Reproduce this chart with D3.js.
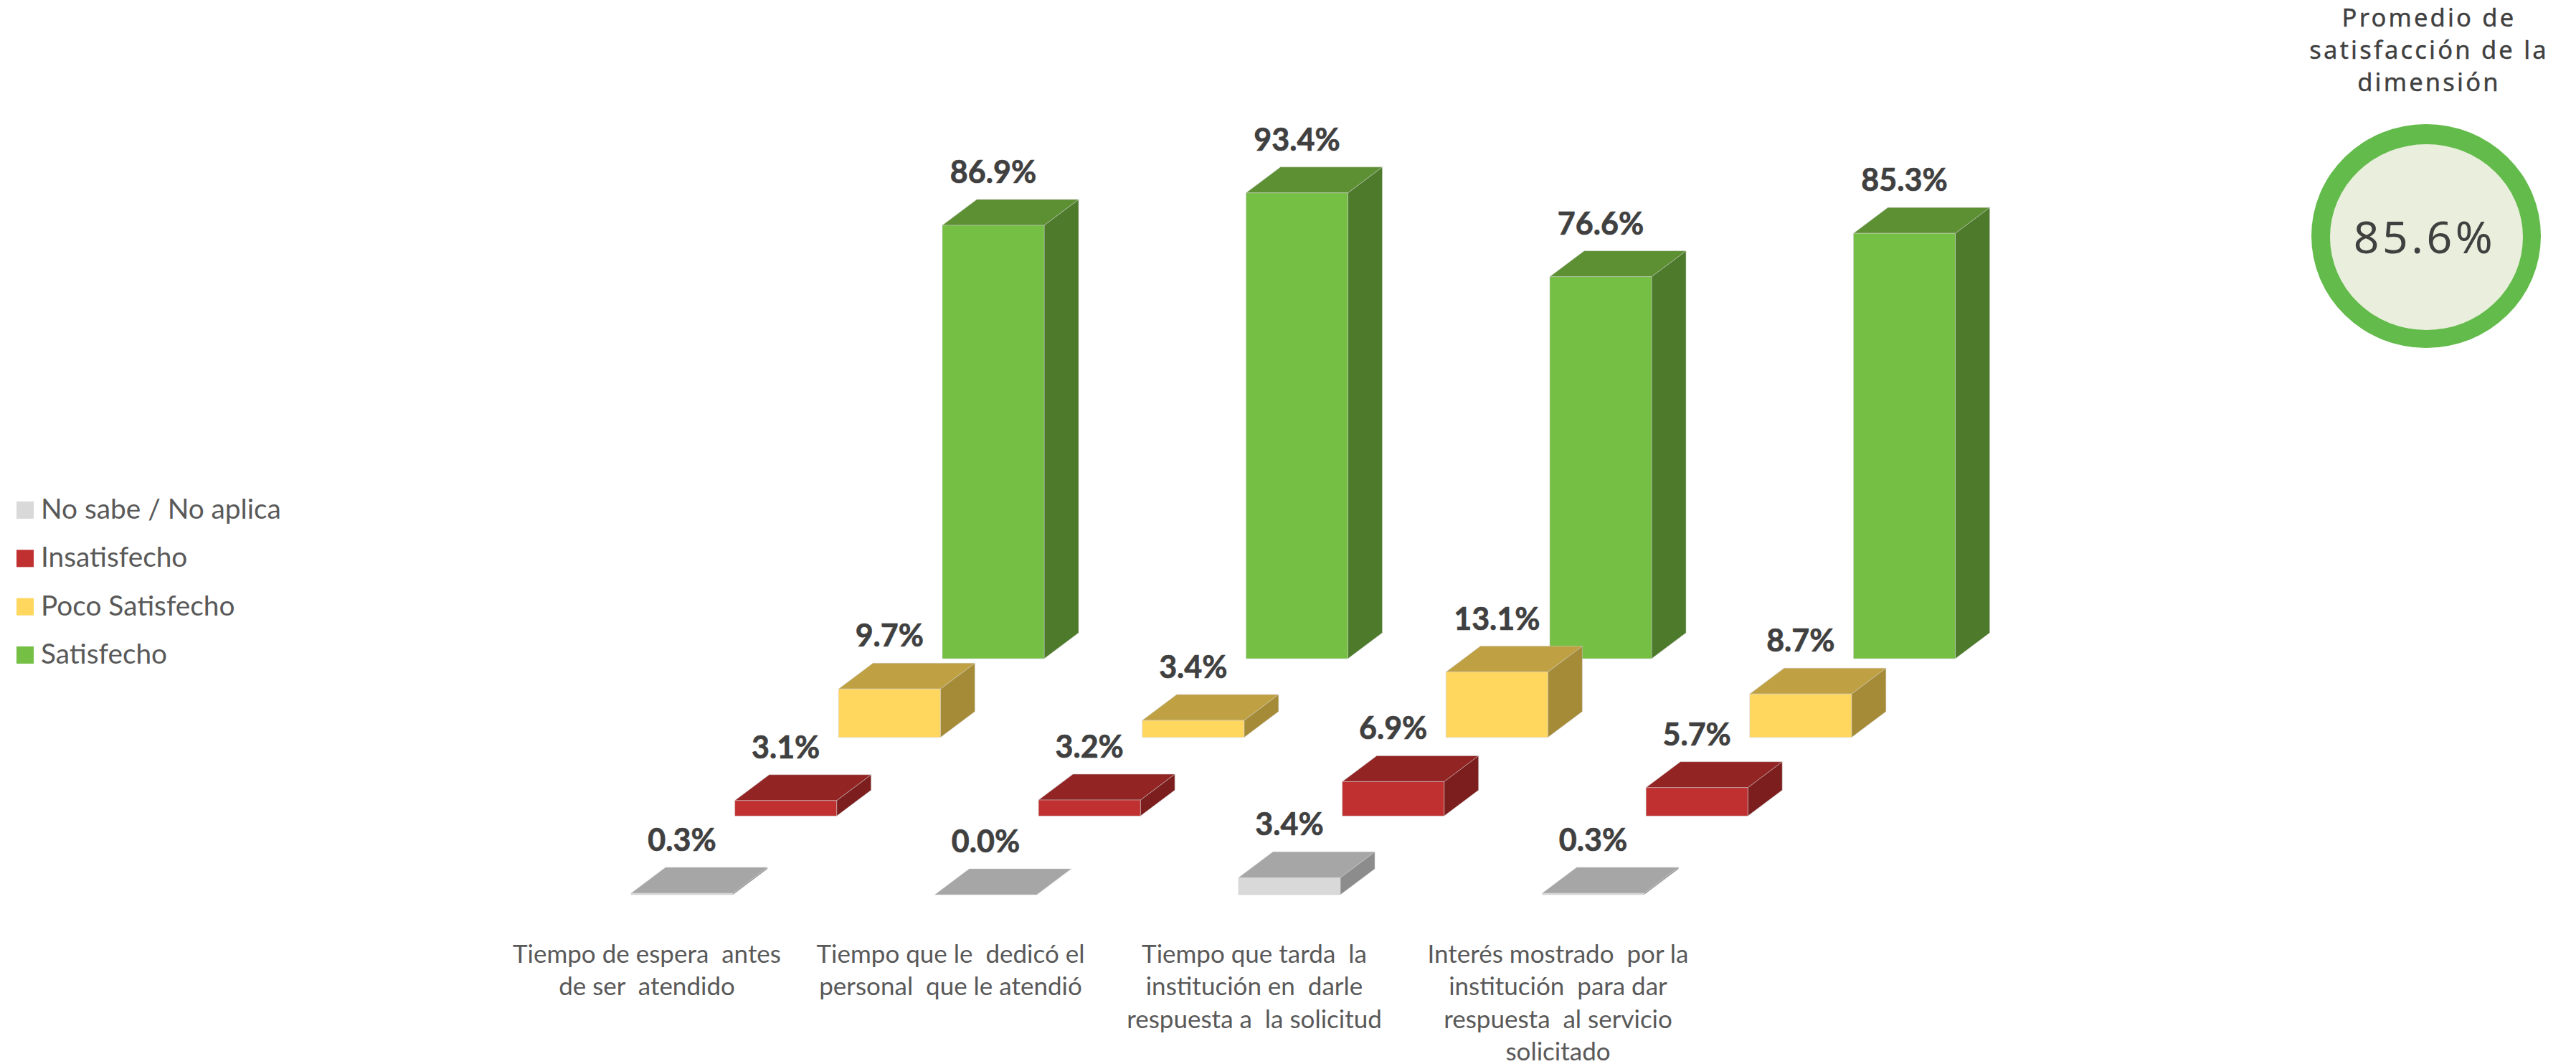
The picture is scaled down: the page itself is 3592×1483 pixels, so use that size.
<!DOCTYPE html>
<html lang="es">
<head>
<meta charset="utf-8">
<title>Satisfacción por dimensión</title>
<script src="https://cdn.jsdelivr.net/npm/d3@7/dist/d3.min.js"></script>
<style>
  html, body { margin: 0; padding: 0; background: #fff; }
  svg { display: block; }
  text { font-family: Lato, "Noto Sans", sans-serif; white-space: pre; }
</style>
</head>
<body>
<div id="chart"></div>
<script>
// Survey results
const categories = [
  "Tiempo de espera  antes\nde ser  atendido",
  "Tiempo que le  dedicó el\npersonal  que le atendió",
  "Tiempo que tarda  la\ninstitución en  darle\nrespuesta a  la solicitud",
  "Interés mostrado  por la\ninstitución  para dar\nrespuesta  al servicio\nsolicitado"
];
const satisfecho     = [86.9, 93.4, 76.6, 85.3];
const pocoSatisfecho = [9.7, 3.4, 13.1, 8.7];
const insatisfecho   = [3.1, 3.2, 6.9, 5.7];
const noSabe         = [0.3, 0.0, 3.4, 0.3];

// Back-to-front depth order of the rows
const seriesNames = ["Satisfecho", "Poco Satisfecho", "Insatisfecho", "No sabe / No aplica"];
const seriesValues = [satisfecho, pocoSatisfecho, insatisfecho, noSabe];
const legendOrder = ["No sabe / No aplica", "Insatisfecho", "Poco Satisfecho", "Satisfecho"];

const frontColors = ["#75BF44", "#FFD75E", "#C03030", "#D9D9D9"];
const topColors   = ["#5C9033", "#BFA143", "#932424", "#A6A6A6"];
const sideColors  = ["#4D7B2B", "#A58B37", "#7D1E1E", "#8C8C8C"];

const averageTitle = ["Promedio de", "satisfacción de la", "dimensión"];
const averageValue = 85.6;

const W = 3592, H = 1483;
const svg = d3.select("#chart").append("svg").attr("width", W).attr("height", H).attr("viewBox", [0, 0, W, H]);

// Each category steps right; each series row steps down-left in oblique depth
const barW = 142, depthX = 48, depthY = 36;
const categoryX = d3.scalePoint().domain(categories).range([0, 1270.5]);
const rowLeft = d3.scalePoint().domain(seriesNames).range([1314, 880]);
const rowBase = d3.scalePoint().domain(seriesNames).range([918, 1247]);
const heightOf = d3.scaleLinear().domain([0, 100]).range([0, 695]);
const fmt = d3.format(".1f");

const edge = "rgba(205,205,205,0.5)";
const bars = [];
seriesNames.forEach((s, si) => {
  categories.forEach((c, ci) => {
    bars.push({ s, si, c, value: seriesValues[si][ci] });
  });
});

svg.append("g").selectAll("g").data(bars).join("g").each(function (d) {
  const x0 = rowLeft(d.s) + categoryX(d.c), x1 = x0 + barW;
  const yb = rowBase(d.s), yt = yb - heightOf(d.value);
  const g = d3.select(this);
  const poly = (pts, fill) => g.append("path")
    .attr("d", d3.line()(pts) + "Z")
    .attr("fill", fill).attr("stroke", edge).attr("stroke-width", 1).attr("stroke-linejoin", "round");
  poly([[x1, yb], [x1 + depthX, yb - depthY], [x1 + depthX, yt - depthY], [x1, yt]], sideColors[d.si]);
  poly([[x0, yt], [x0 + depthX, yt - depthY], [x1 + depthX, yt - depthY], [x1, yt]], topColors[d.si]);
  if (d.value > 0) poly([[x0, yb], [x1, yb], [x1, yt], [x0, yt]], frontColors[d.si]);
  g.append("text")
    .attr("x", (x0 + x1) / 2)
    .attr("y", yt - depthY - 23)
    .attr("text-anchor", "middle")
    .attr("font-size", 43)
    .attr("font-weight", 700)
    .attr("fill", "#404040")
    .attr("stroke", "#404040")
    .attr("stroke-width", 0.7)
    .text(fmt(d.value) + "%");
});

// Category axis, domain line and ticks removed, labels wrapped to several lines
const axisG = svg.append("g")
  .attr("transform", "translate(901.5,1342)")
  .call(d3.axisBottom(categoryX).tickSize(0).tickPadding(0));
axisG.select(".domain").remove();
axisG.selectAll(".tick text").each(function (label) {
  const t = d3.select(this).text(null)
    .attr("y", 0).attr("dy", null)
    .attr("text-anchor", "middle")
    .attr("font-family", "Lato, 'Noto Sans', sans-serif")
    .attr("font-size", 35)
    .attr("fill", "#595959");
  label.split("\n").forEach((line, i) => {
    t.append("tspan").attr("x", 0).attr("y", i * 45.4).text(line);
  });
});

// Legend
const legendY = d3.scalePoint().domain(legendOrder).range([723, 925]);
const legend = svg.append("g").selectAll("g").data(legendOrder).join("g");
legend.append("rect")
  .attr("x", 23).attr("width", 24).attr("height", 24)
  .attr("y", d => legendY(d) - 24)
  .attr("fill", d => frontColors[seriesNames.indexOf(d)]);
legend.append("text")
  .attr("x", 57).attr("y", d => legendY(d))
  .attr("font-size", 38.8).attr("fill", "#595959")
  .text(d => d);

// Average badge
svg.append("ellipse").attr("cx", 3383).attr("cy", 329).attr("rx", 160).attr("ry", 156).attr("fill", "#62BB4A");
svg.append("ellipse").attr("cx", 3383.5).attr("cy", 330.5).attr("rx", 134.5).attr("ry", 129.5).attr("fill", "#EAEFDD");
svg.append("text")
  .attr("x", 3381).attr("y", 353)
  .attr("text-anchor", "middle")
  .attr("style", "font-family:'Noto Sans',sans-serif;letter-spacing:4.5px")
  .attr("font-size", 62.5)
  .attr("fill", "#404040")
  .text(fmt(averageValue) + "%");
svg.append("g").selectAll("text").data(averageTitle).join("text")
  .attr("x", 3387).attr("y", (d, i) => 37 + i * 45)
  .attr("text-anchor", "middle")
  .attr("style", "font-family:'Noto Sans',sans-serif;letter-spacing:3.2px")
  .attr("font-size", 34.5)
  .attr("fill", "#404040")
  .attr("stroke", "#404040")
  .attr("stroke-width", 0.4)
  .text(d => d);
</script>
</body>
</html>
